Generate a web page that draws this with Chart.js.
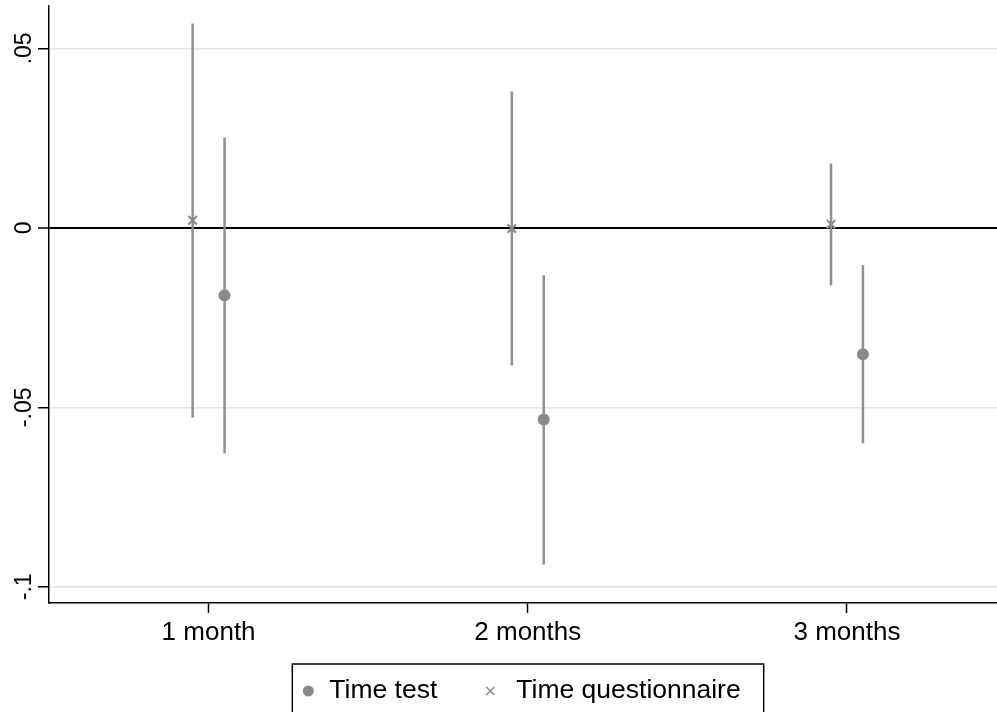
<!DOCTYPE html>
<html>
<head>
<meta charset="utf-8">
<script src="https://cdn.jsdelivr.net/npm/chart.js@4/dist/chart.umd.min.js"></script>
<style>
  body { margin: 0; background: #fff; }
  canvas { display: block; }
</style>
</head>
<body>
<canvas id="coefChart" width="997" height="712"></canvas>
<script>
// categories and their positions on the x scale
const categories = ['1 month', '2 months', '3 months'];
const xPos = [1, 2, 3];

// Time test: estimate and confidence interval
const testEst = [-0.0188, -0.0534, -0.0352];
const testLo = [-0.0628, -0.0938, -0.0600];
const testHi = [0.0252, -0.0132, -0.0104];

// Time questionnaire: estimate and confidence interval
const questEst = [0.0021, -0.0002, 0.0010];
const questLo = [-0.0528, -0.0383, -0.0160];
const questHi = [0.0569, 0.0380, 0.0179];

// y tick values and how they are printed
const yTicks = [-0.1, -0.05, 0, 0.05];
const yTickLabels = ['-.1', '-.05', '0', '.05'];

const grey = '#8a8a8a';
const fontFamily = '"Liberation Sans", Arial, Helvetica, sans-serif';
const shift = 0.05; // horizontal offset between the two series

// vertical interval lines, drawn from the lo/hi arrays through the scales
const errorBars = {
    id: 'errorBars',
    beforeDatasetsDraw(chart) {
        const ctx = chart.ctx;
        const xs = chart.scales.x, ys = chart.scales.y;
        ctx.save();
        ctx.strokeStyle = '#8f8f8f';
        ctx.lineWidth = 2.5;
        chart.data.datasets.forEach(ds => {
            ds.data.forEach(p => {
                const px = xs.getPixelForValue(p.x);
                ctx.beginPath();
                ctx.moveTo(px, ys.getPixelForValue(p.lo));
                ctx.lineTo(px, ys.getPixelForValue(p.hi));
                ctx.stroke();
            });
        });
        ctx.restore();
    }
};

// boxed legend under the plot
const boxLegend = {
    id: 'boxLegend',
    afterDraw(chart) {
        const ctx = chart.ctx;
        ctx.save();
        ctx.font = '26.5px ' + fontFamily;
        const names = chart.data.datasets.map(d => d.label);
        const w0 = ctx.measureText(names[0]).width;
        const w1 = ctx.measureText(names[1]).width;
        const total = 16 + 21 + w0 + 53 + 26 + w1 + 23;
        const mid = (chart.chartArea.left + chart.chartArea.right) / 2 + 5;
        const left = mid - total / 2;
        const top = 664, cy = 691;

        ctx.strokeStyle = '#000';
        ctx.lineWidth = 1.5;
        ctx.strokeRect(left, top, total, 80);

        // dot marker
        let x = left + 16;
        ctx.fillStyle = grey;
        ctx.beginPath();
        ctx.arc(x, cy, 5.5, 0, Math.PI * 2);
        ctx.fill();
        ctx.fillStyle = '#000';
        ctx.textBaseline = 'middle';
        ctx.textAlign = 'left';
        ctx.fillText(names[0], x + 21, cy);

        // cross marker
        x = x + 21 + w0 + 53;
        ctx.strokeStyle = grey;
        ctx.lineWidth = 1.5;
        ctx.beginPath();
        ctx.moveTo(x - 4, cy - 4); ctx.lineTo(x + 4, cy + 4);
        ctx.moveTo(x + 4, cy - 4); ctx.lineTo(x - 4, cy + 4);
        ctx.stroke();
        ctx.fillText(names[1], x + 26, cy);
        ctx.restore();
    }
};

new Chart(document.getElementById('coefChart'), {
    type: 'scatter',
    data: {
        datasets: [{
            label: 'Time test',
            data: xPos.map((v, i) => ({ x: v + shift, y: testEst[i], lo: testLo[i], hi: testHi[i] })),
            pointStyle: 'circle',
            pointRadius: 6,
            pointBackgroundColor: grey,
            pointBorderWidth: 0
        }, {
            label: 'Time questionnaire',
            data: xPos.map((v, i) => ({ x: v - shift, y: questEst[i], lo: questLo[i], hi: questHi[i] })),
            pointStyle: 'crossRot',
            pointRadius: 6,
            pointBorderColor: grey,
            pointBorderWidth: 2
        }]
    },
    options: {
        responsive: false,
        animation: false,
        devicePixelRatio: 1,
        layout: { autoPadding: false, padding: { top: 6, right: 0, bottom: 65, left: 2 } },
        plugins: {
            legend: { display: false },
            tooltip: { enabled: false }
        },
        scales: {
            x: {
                type: 'linear',
                min: 0.5,
                max: 3.47,
                afterBuildTicks: s => { s.ticks = xPos.map(v => ({ value: v })); },
                afterFit: s => { s.height = 44; s.paddingLeft = 0; s.paddingRight = 0; },
                ticks: {
                    callback: v => categories[xPos.indexOf(v)],
                    font: { family: fontFamily, size: 26 },
                    color: '#000',
                    padding: 4,
                    maxRotation: 0,
                    autoSkip: false
                },
                grid: {
                    drawOnChartArea: false,
                    tickLength: 10,
                    tickColor: '#000',
                    tickWidth: 1.5
                },
                border: { color: '#000', width: 1.5 }
            },
            y: {
                min: -0.1045,
                max: 0.0618,
                afterBuildTicks: s => { s.ticks = yTicks.map(v => ({ value: v })); },
                afterFit: s => { s.width = 47; s.paddingTop = 0; s.paddingBottom = 0; },
                ticks: {
                    callback: v => yTickLabels[yTicks.indexOf(v)],
                    font: { family: fontFamily, size: 23 },
                    color: '#000',
                    minRotation: 90,
                    maxRotation: 90,
                    crossAlign: 'center',
                    padding: -6
                },
                grid: {
                    color: c => (c.tick && c.tick.value === 0) ? '#000' : '#e6e6e6',
                    lineWidth: c => (c.tick && c.tick.value === 0) ? 2 : 1.5,
                    tickLength: 11,
                    tickColor: '#000',
                    tickWidth: 1.5
                },
                border: { color: '#000', width: 1.5 }
            }
        }
    },
    plugins: [errorBars, boxLegend]
});
</script>
</body>
</html>
